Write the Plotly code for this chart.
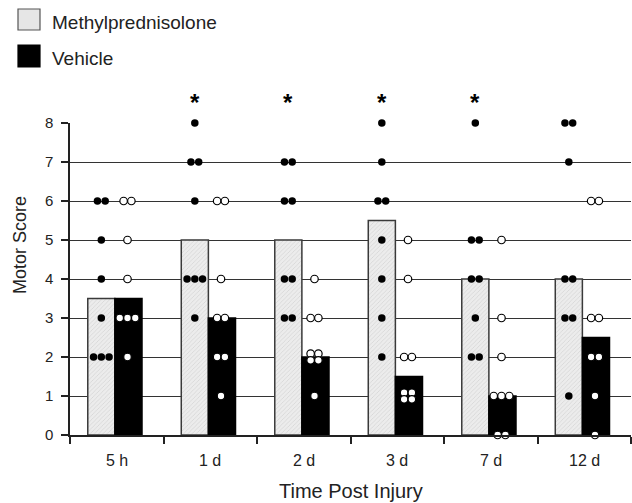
import plotly.graph_objects as go
from collections import Counter

# ---------------- data ----------------
categories = ["5 h", "1 d", "2 d", "3 d", "7 d", "12 d"]

# individual motor scores per animal, Methylprednisolone group
mp_scores = [
    [6, 6, 5, 4, 3, 2, 2, 2],
    [8, 7, 7, 6, 4, 4, 4, 3],
    [7, 7, 6, 6, 4, 4, 3, 3],
    [8, 7, 6, 6, 5, 4, 3, 2],
    [8, 5, 5, 4, 4, 3, 2, 2],
    [8, 8, 7, 4, 4, 3, 3, 1],
]
# individual motor scores per animal, Vehicle group
veh_scores = [
    [6, 6, 5, 4, 3, 3, 3, 2],
    [6, 6, 4, 3, 3, 2, 2, 1],
    [4, 3, 3, 2, 2, 2, 2, 1],
    [5, 4, 2, 2, 1, 1, 1, 1],
    [5, 3, 2, 1, 1, 1, 0, 0],
    [6, 6, 3, 3, 2, 2, 1, 0],
]
# bar heights (medians)
mp_median = [3.5, 5, 5, 5.5, 4, 4]
veh_median = [3.5, 3, 2, 1.5, 1, 2.5]
significant = [False, True, True, True, True, False]
y_ticks = [0, 1, 2, 3, 4, 5, 6, 7, 8]

# ---------------- layout constants ----------------
W, H = 632, 503
ML, MR, MT, MB = 70, 1, 123, 68
PW, PH = W - ML - MR, H - MT - MB
FONT = "Liberation Sans, Arial, sans-serif"
TXT = "#222222"

BAR_W = 0.29
MP_OFF = -0.31
VEH_OFF = -0.02
MP_DOT = MP_OFF + BAR_W / 2
VEH_DOT = VEH_OFF + BAR_W / 2 - 0.01
DX = 0.083
DY = 0.085


def px_x(p):
    return (p - ML) / PW


def px_y(p):
    return (H - MB - p) / PH


def dot_positions(scores_by_cat, off):
    xs, ys = [], []
    for i, scores in enumerate(scores_by_cat):
        cnt = Counter(scores)
        for v, n in cnt.items():
            if n == 4:
                for dy in (DY, -DY):
                    for k in range(2):
                        xs.append(i + off + (k - 0.5) * DX)
                        ys.append(v + dy)
            else:
                for k in range(n):
                    xs.append(i + off + (k - (n - 1) / 2) * DX)
                    ys.append(v)
    return xs, ys


xpos = list(range(len(categories)))

fig = go.Figure()
fig.add_trace(go.Bar(
    x=xpos, y=mp_median, width=BAR_W, offset=MP_OFF,
    marker=dict(color="#e9e9e9",
                line=dict(color="#3a3a3a", width=1.5),
                pattern=dict(shape="/", fgcolor="#bdbdbd", bgcolor="#ececec",
                             size=3, solidity=0.25)),
    showlegend=False, hoverinfo="skip"))
fig.add_trace(go.Bar(
    x=xpos, y=veh_median, width=BAR_W, offset=VEH_OFF,
    marker=dict(color="#000000", line=dict(color="#000000", width=1.5)),
    showlegend=False, hoverinfo="skip"))

mx, my = dot_positions(mp_scores, MP_DOT)
vx, vy = dot_positions(veh_scores, VEH_DOT)
fig.add_trace(go.Scatter(
    x=mx, y=my, mode="markers", cliponaxis=False,
    marker=dict(size=7.5, color="#000000", line=dict(width=0)),
    showlegend=False, hoverinfo="skip"))
fig.add_trace(go.Scatter(
    x=vx, y=vy, mode="markers", cliponaxis=False,
    marker=dict(size=7.5, color="#ffffff", line=dict(width=1.2, color="#000000")),
    showlegend=False, hoverinfo="skip"))

annotations = []
# category labels
for i, c in enumerate(categories):
    annotations.append(dict(x=i, y=px_y(460), xref="x", yref="paper", text=c,
                            showarrow=False, xanchor="center", yanchor="middle",
                            font=dict(family=FONT, size=16, color=TXT)))
# significance asterisks
for i, s in enumerate(significant):
    if s:
        annotations.append(dict(x=i + MP_DOT, y=px_y(102), xref="x", yref="paper",
                                text="<b>*</b>", showarrow=False, xanchor="center",
                                yanchor="middle",
                                font=dict(family=FONT, size=24, color="#000")))
# axis titles
annotations.append(dict(x=px_x(351), y=px_y(491), xref="paper", yref="paper",
                        text="Time Post Injury", showarrow=False,
                        xanchor="center", yanchor="middle",
                        font=dict(family=FONT, size=20, color=TXT)))
annotations.append(dict(x=px_x(20), y=px_y(245), xref="paper", yref="paper",
                        text="Motor Score", showarrow=False, textangle=-90,
                        xanchor="center", yanchor="middle",
                        font=dict(family=FONT, size=18, color=TXT)))
# legend
legend_items = [("Methylprednisolone", 9, 30, 22), ("Vehicle", 45, 67, 58)]
shapes = []
for name, y0, y1, yc in legend_items:
    is_mp = name.startswith("M")
    shapes.append(dict(type="rect", xref="paper", yref="paper",
                       x0=px_x(18), x1=px_x(40), y0=px_y(y1), y1=px_y(y0),
                       fillcolor="#e6e6e6" if is_mp else "#000000",
                       line=dict(color="#555555" if is_mp else "#000000", width=1.2)))
    annotations.append(dict(x=px_x(50), y=px_y(yc), xref="paper", yref="paper",
                            text=name, showarrow=False, xanchor="left",
                            yanchor="middle",
                            font=dict(family=FONT, size=19, color=TXT)))

fig.update_layout(
    width=W, height=H,
    margin=dict(l=ML, r=MR, t=MT, b=MB, pad=0),
    paper_bgcolor="white", plot_bgcolor="white",
    barmode="overlay",
    showlegend=False,
    annotations=annotations,
    shapes=shapes,
    xaxis=dict(range=[-0.5, len(categories) - 0.5],
               tickmode="array",
               tickvals=[i - 0.5 for i in range(len(categories) + 1)],
               ticktext=["" for _ in range(len(categories) + 1)],
               ticks="outside", ticklen=7, tickwidth=1.5, tickcolor="#222",
               showgrid=False, zeroline=False,
               showline=True, linecolor="#222", linewidth=1.5),
    yaxis=dict(range=[0, 8], tickmode="array", tickvals=y_ticks,
               ticktext=[str(v) for v in y_ticks],
               ticks="outside", ticklen=7, tickwidth=1.5, tickcolor="#222",
               ticklabelstandoff=5,
               tickfont=dict(family=FONT, size=15, color=TXT),
               showgrid=True, gridcolor="#333333", gridwidth=1.4,
               zeroline=False,
               showline=True, linecolor="#222", linewidth=1.5),
)

fig.write_html("out.html")
